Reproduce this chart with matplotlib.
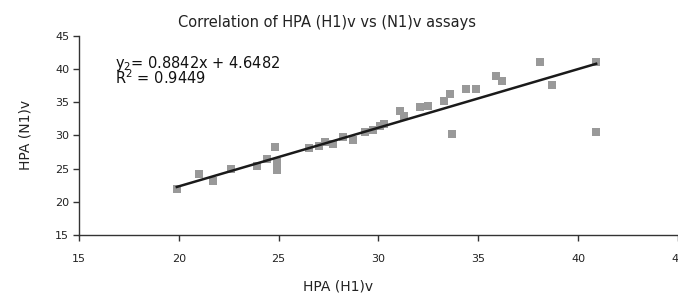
import numpy as np
import matplotlib
import matplotlib.pyplot as plt

matplotlib.use('agg')
plt.rcParams['font.family'] = ['DejaVu Sans']

# HPA titres
hpa_h1 = [19.9, 21.0, 21.7, 22.6, 23.9, 24.4, 24.8, 24.9, 24.9,
          26.5, 27.0, 27.3, 27.7, 28.2, 28.7, 29.3, 29.7, 30.1, 30.3,
          31.1, 31.3, 32.1, 32.5, 33.3, 33.6, 33.7, 34.4, 34.9,
          35.9, 36.2, 38.1, 38.7, 40.9, 40.9]
hpa_n1 = [21.9, 24.2, 23.2, 25.0, 25.4, 26.4, 28.2, 26.0, 24.8,
          28.1, 28.4, 29.0, 28.7, 29.8, 29.3, 30.5, 30.9, 31.5, 31.7,
          33.7, 33.0, 34.3, 34.5, 35.2, 36.3, 30.3, 37.0, 37.0,
          38.9, 38.2, 41.1, 37.6, 41.1, 30.6]

slope = 0.8842
intercept = 4.6482
r_squared = 0.9449

fig = plt.figure(figsize=(6.78, 2.97), dpi=100)
ax = fig.add_axes([0.1165, 0.2088, 0.8835, 0.67])

ax.scatter(hpa_h1, hpa_n1, marker='s', s=40, color='#999999', linewidths=0, zorder=2)

x_fit = np.array([min(hpa_h1), max(hpa_h1)])
ax.plot(x_fit, slope * x_fit + intercept, color='#1a1a1a', lw=1.8, zorder=3)

ax.set_xlim(15, 45)
ax.set_ylim(15, 45)
ax.set_xticks(range(15, 50, 5))
ax.set_yticks(range(15, 50, 5))
ax.spines['top'].set_visible(False)
ax.spines['right'].set_visible(False)
for s in ['left', 'bottom']:
    ax.spines[s].set_color('#333333')
    ax.spines[s].set_linewidth(1.0)
ax.tick_params(direction='out', length=4, width=1, colors='#333333', labelsize=8, pad=10)
ax.tick_params(axis='y', pad=3)
for lbl in ax.get_xticklabels() + ax.get_yticklabels():
    lbl.set_color('#222222')

ax.text(16.8, 40.2, 'y$_2$= %.4fx + %.4f' % (slope, intercept), fontsize=10.5, color='#111111')
ax.text(16.8, 37.7, 'R$^2$ = %.4f' % r_squared, fontsize=10.5, color='#111111')

fig.text(0.482, 0.925, 'Correlation of HPA (H1)v vs (N1)v assays', ha='center', va='center',
         fontsize=10.5, color='#222222')
fig.text(0.498, 0.035, 'HPA (H1)v', ha='center', va='center', fontsize=10, color='#222222')
fig.text(0.037, 0.545, 'HPA (N1)v', ha='center', va='center', rotation=90, fontsize=10,
         color='#222222')

fig.savefig('out.png', dpi=100)
